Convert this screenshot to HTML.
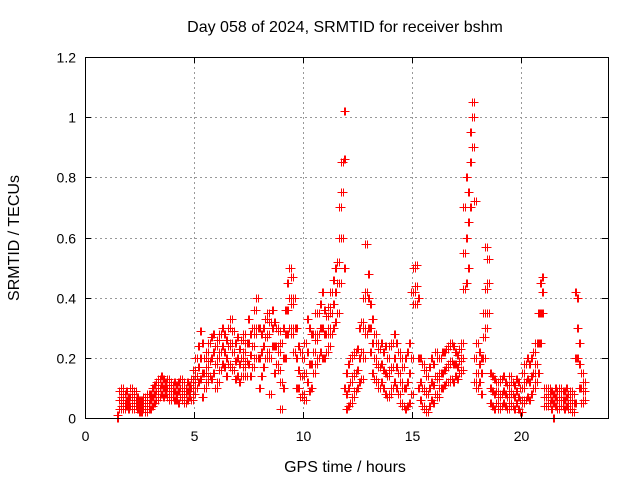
<!DOCTYPE html>
<html><head><meta charset="utf-8"><style>
body{margin:0;background:#fff}
svg{display:block;font-family:"Liberation Sans",sans-serif}
</style></head><body>
<svg id="chart" width="640" height="480">
<rect width="640" height="480" fill="#fff"/>
<text x="345" y="32" font-size="16" text-anchor="middle">Day 058 of 2024, SRMTID for receiver bshm</text>
<text x="345" y="472" font-size="16" text-anchor="middle">GPS time / hours</text>
<text transform="translate(19,238) rotate(-90)" font-size="16" text-anchor="middle">SRMTID / TECUs</text>
<g id="grid"></g><g id="axes"></g><g id="marks"></g>
<rect x="85.5" y="57.5" width="523" height="361" fill="none" stroke="#000"/>
</svg>
<script>
const xTicks=[0,5,10,15,20];
const yTicks=[0,0.2,0.4,0.6,0.8,1,1.2];
const yTickLabels=["0","0.2","0.4","0.6","0.8","1","1.2"];
const hours=[1.5,1.6,1.7,1.8,1.9,2.0,2.1,2.2,2.3,2.4,2.5,2.6,2.7,2.8,2.9,3.0,3.1,3.2,3.3,3.4,3.5,3.6,3.7,3.8,3.9,4.0,4.1,4.2,4.3,4.4,4.5,4.6,4.7,4.8,4.9,5.0,5.1,5.2,5.3,5.4,5.5,5.6,5.7,5.8,5.9,6.0,6.1,6.2,6.3,6.4,6.5,6.6,6.7,6.8,6.9,7.0,7.1,7.2,7.3,7.4,7.5,7.6,7.7,7.8,7.9,8.0,8.1,8.2,8.3,8.4,8.5,8.6,8.7,8.8,8.9,9.0,9.1,9.2,9.3,9.4,9.5,9.6,9.7,9.8,9.9,10.0,10.1,10.2,10.3,10.4,10.5,10.6,10.7,10.8,10.9,11.0,11.1,11.2,11.3,11.4,11.5,11.6,11.7,11.8,11.9,12.0,12.1,12.2,12.3,12.4,12.5,12.6,12.7,12.8,12.9,13.0,13.1,13.2,13.3,13.4,13.5,13.6,13.7,13.8,13.9,14.0,14.1,14.2,14.3,14.4,14.5,14.6,14.7,14.8,14.9,15.0,15.1,15.2,15.3,15.4,15.5,15.6,15.7,15.8,15.9,16.0,16.1,16.2,16.3,16.4,16.5,16.6,16.7,16.8,16.9,17.0,17.1,17.2,17.3,17.4,17.5,17.6,17.7,17.8,17.9,18.0,18.1,18.2,18.3,18.4,18.5,18.6,18.7,18.8,18.9,19.0,19.1,19.2,19.3,19.4,19.5,19.6,19.7,19.8,19.9,20.0,20.1,20.2,20.3,20.4,20.5,20.6,20.7,20.8,20.9,21.0,21.1,21.2,21.3,21.4,21.5,21.6,21.7,21.8,21.9,22.0,22.1,22.2,22.3,22.4,22.5,22.6,22.7,22.8,22.9];
const values=[[0,.01,0],[.03,.06,.09],[.04,.07,.1],[.03,.05,.08],[.04,.06,.09],[.03,.05,.07],[.04,.07,.1],[.03,.06,.08],[.04,.06,.09],[.03,.05,.07],[.02,.04,.06],[.02,.04,.06],[.03,.05,.07],[.02,.04,.06],[.03,.05,.08],[.03,.06,.08],[.04,.07,.1],[.05,.08,.11],[.06,.09,.12],[.07,.1,.13],[.08,.11,.14],[.07,.1,.13],[.08,.1,.12],[.07,.1,.13],[.06,.09,.12],[.07,.09,.11],[.06,.09,.12],[.06,.08,.11],[.05,.09,.12],[.07,.1,.13],[.06,.09,.12],[.05,.08,.1],[.06,.09,.12],[.07,.09,.11],[.06,.1,.13],[.08,.12,.16],[.1,.14,.2],[.12,.17,.24],[.13,.2,.29],[.07,.15,.25],[.1,.15,.2],[.12,.17,.22],[.14,.19,.25],[.13,.2,.27],[.15,.22,.28],[.1,.18,.24],[.12,.2,.26],[.16,.22,.28],[.18,.24,.3],[.17,.22,.28],[.14,.2,.26],[.18,.24,.3],[.17,.25,.33],[.16,.22,.29],[.13,.19,.25],[.14,.2,.27],[.12,.18,.23],[.14,.2,.26],[.17,.22,.28],[.14,.19,.25],[.18,.25,.33],[.14,.21,.28],[.17,.24,.3],[.2,.28,.36],[.2,.3,.4],[.1,.2,.3],[.14,.22,.28],[.17,.24,.3],[.2,.27,.33],[.22,.28,.35],[.08,.2,.32],[.24,.3,.36],[.15,.24,.32],[.18,.24,.3],[.16,.22,.29],[.03,.12,.25],[.1,.2,.3],[.2,.28,.36],[.28,.36,.45],[.3,.4,.5],[.28,.38,.47],[.22,.3,.4],[.1,.2,.3],[.1,.16,.24],[.07,.14,.22],[.08,.14,.2],[.06,.15,.25],[.12,.22,.33],[.09,.18,.3],[.1,.18,.28],[.15,.22,.28],[.18,.26,.35],[.2,.28,.35],[.22,.3,.38],[.2,.3,.42],[.2,.28,.36],[.22,.28,.34],[.24,.3,.37],[.28,.35,.42],[.3,.38,.46],[.32,.42,.5],[.35,.45,.52],[.45,.6,.7],[.6,.75,.85],[.1,.5,.86,1.02],[.03,.08,.15],[.04,.1,.18],[.05,.12,.2],[.07,.14,.21],[.09,.15,.22],[.1,.16,.23],[.12,.2,.3],[.13,.22,.32],[.2,.3,.4],[.28,.42,.58],[.3,.4,.48],[.22,.3,.38],[.15,.25,.33],[.13,.2,.28],[.12,.18,.25],[.1,.17,.23],[.12,.18,.25],[.1,.16,.22],[.08,.15,.24],[.07,.14,.2],[.08,.16,.24],[.1,.17,.25],[.12,.2,.28],[.1,.17,.25],[.08,.15,.22],[.05,.12,.2],[.04,.1,.17],[.03,.1,.2],[.04,.12,.22],[.05,.15,.25],[.08,.2,.42],[.38,.42,.5],[.38,.44,.51],[.1,.2,.4],[.06,.12,.2],[.04,.1,.18],[.03,.09,.16],[.02,.08,.14],[.04,.1,.17],[.06,.12,.2],[.05,.11,.18],[.08,.14,.22],[.07,.13,.2],[.1,.15,.2],[.1,.15,.22],[.11,.16,.22],[.12,.17,.23],[.12,.18,.24],[.13,.19,.25],[.12,.18,.24],[.14,.18,.22],[.13,.17,.21],[.15,.19,.23],[.16,.2,.25],[.43,.55,.7],[.45,.6,.8],[.5,.65,.75],[.7,.85,.95],[.9,1.0,1.05],[.12,.2,.72],[.1,.15,.25],[.12,.18,.22],[.08,.15,.2],[.2,.27,.35],[.3,.43,.57],[.35,.45,.53],[.05,.1,.15],[.04,.09,.14],[.03,.08,.13],[.05,.09,.12],[.03,.07,.12],[.04,.08,.13],[.05,.09,.14],[.04,.08,.12],[.03,.07,.11],[.05,.09,.14],[.04,.08,.12],[.03,.07,.11],[.05,.09,.13],[.03,.07,.12],[.02,.06,.1],[.05,.1,.15],[.06,.12,.18],[.07,.13,.2],[.06,.12,.18],[.08,.14,.2],[.1,.15,.22],[.12,.18,.25],[.15,.25,.35],[.25,.35,.45],[.35,.42,.47],[.04,.07,.1],[.04,.07,.1],[.05,.08,.1],[.03,.06,.09],[0,.05,.08],[.04,.07,.1],[.03,.06,.09],[.04,.07,.1],[.04,.06,.09],[.03,.06,.09],[.04,.07,.1],[.03,.05,.08],[.03,.06,.09],[.02,.05,.08],[.05,.2,.42],[.2,.3,.4],[.1,.18,.25],[.05,.1,.15],[.06,.09,.12]];
const X0=85,X1=608,Y0=418,Y1=57,XMAX=24,YMAX=1.2;
function xs(h){return X0+(X1-X0)*h/XMAX;}
function ys(v){return Y0-(Y0-Y1)*v/YMAX;}
const NS="http://www.w3.org/2000/svg";
const grid=document.getElementById('grid'),axes=document.getElementById('axes'),marks=document.getElementById('marks');
function mk(tag,attrs,parent){const e=document.createElementNS(NS,tag);for(const k in attrs)e.setAttribute(k,attrs[k]);parent.appendChild(e);return e;}
xTicks.forEach(t=>{const x=Math.round(xs(t))+0.5;
 if(t>0){const g=mk('line',{x1:x,x2:x,y1:Y1,y2:Y0,stroke:'#999','stroke-dasharray':'2,3'},grid);
 
 }
 mk('line',{x1:x,x2:x,y1:Y0,y2:Y0-6,stroke:'#000'},axes);
 mk('line',{x1:x,x2:x,y1:Y1,y2:Y1+6,stroke:'#000'},axes);
 const l=mk('text',{x:x,y:Y0+23,'font-size':14,'text-anchor':'middle'},axes);l.textContent=t;
 
 });
yTicks.forEach((t,i)=>{const y=Math.round(ys(t))+0.5;
 if(t>0&&t<YMAX){const g=mk('line',{x1:X0,x2:X1,y1:y,y2:y,stroke:'#999','stroke-dasharray':'2,3'},grid);
 
 }
 mk('line',{x1:X0,x2:X0+6,y1:y,y2:y,stroke:'#000'},axes);
 mk('line',{x1:X1,x2:X1-6,y1:y,y2:y,stroke:'#000'},axes);
 const l=mk('text',{x:X0-9,y:y+5,'font-size':14,'text-anchor':'end'},axes);l.textContent=yTickLabels[i];
 
 });
let d='';
hours.forEach((h,i)=>{values[i].forEach(v=>{
 [-0.035,0.035].forEach(o=>{const x=Math.round(xs(h+o))+0.5,y=Math.round(ys(v))+0.5;
  d+=`M${x-4},${y}h8M${x},${y-4}v8`;});});});
const p=mk('path',{d:d,stroke:'#ff0000','stroke-width':1.3,fill:'none','shape-rendering':'crispEdges'},marks);


</script>
</body></html>
